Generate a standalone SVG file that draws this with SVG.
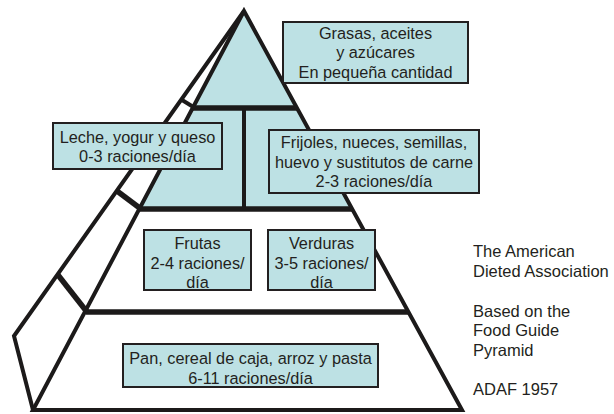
<svg xmlns="http://www.w3.org/2000/svg" width="614" height="414" viewBox="0 0 614 414">
  <style>
    .edge { fill: none; stroke: #1c1a1a; stroke-width: 4; stroke-linejoin: miter; stroke-linecap: butt; }
    .tier { fill: none; stroke: #1c1a1a; stroke-width: 5.5; stroke-linecap: butt; }
    .box { fill: #bde1e4; stroke: #231f20; stroke-width: 2; }
    .t { font-family: "Liberation Sans", Arial, Helvetica, sans-serif; font-size: 16.3px; fill: #231f20; text-anchor: middle; }
    .side { font-family: "Liberation Sans", Arial, Helvetica, sans-serif; font-size: 16.5px; fill: #231f20; }
  </style>
  <rect width="614" height="414" fill="#ffffff"/>
  <g id="pyramid">
    <polygon points="244,11 140,209 352,209" fill="#bde1e4"/>
    <polyline class="edge" points="244,11 14,336 33,410"/>
    <polygon class="edge" points="244,11 33,410 462,410"/>
    <line class="edge" x1="244" y1="108" x2="244" y2="209"/>
    <line class="tier" x1="193" y1="108" x2="297" y2="108"/>
    <line class="tier" x1="140" y1="209" x2="352" y2="209"/>
    <line class="tier" x1="86" y1="312" x2="408" y2="312"/>
    <line class="edge" x1="182" y1="100" x2="195" y2="108"/>
    <line class="tier" x1="117" y1="191" x2="141" y2="209"/>
    <line class="tier" x1="58" y1="275" x2="87" y2="312"/>
  </g>
  <g id="grasas">
    <rect class="box" x="283" y="22" width="185" height="61"/>
    <text class="t" x="375.5" y="38.5">Grasas, aceites</text>
    <text class="t" x="375.5" y="58">y azúcares</text>
    <text class="t" x="375.5" y="77.5">En pequeña cantidad</text>
  </g>
  <g id="leche">
    <rect class="box" x="53" y="123" width="169" height="46"/>
    <text class="t" x="137.5" y="142.5">Leche, yogur y queso</text>
    <text class="t" x="137.5" y="161.5">0-3 raciones/día</text>
  </g>
  <g id="frijoles">
    <rect class="box" x="269" y="130" width="210" height="63"/>
    <text class="t" x="374" y="147.5">Frijoles, nueces, semillas,</text>
    <text class="t" x="374" y="167.5">huevo y sustitutos de carne</text>
    <text class="t" x="374" y="187">2-3 raciones/día</text>
  </g>
  <g id="frutas">
    <rect class="box" x="144" y="230" width="107" height="60"/>
    <text class="t" x="197.5" y="248.5">Frutas</text>
    <text class="t" x="197.5" y="269">2-4 raciones/</text>
    <text class="t" x="197.5" y="288">día</text>
  </g>
  <g id="verduras">
    <rect class="box" x="268" y="230" width="107" height="60"/>
    <text class="t" x="321.5" y="248.5">Verduras</text>
    <text class="t" x="321.5" y="269">3-5 raciones/</text>
    <text class="t" x="321.5" y="288">día</text>
  </g>
  <g id="pan">
    <rect class="box" x="123" y="344" width="255" height="43"/>
    <text class="t" x="250.5" y="364">Pan, cereal de caja, arroz y pasta</text>
    <text class="t" x="250.5" y="384">6-11 raciones/día</text>
  </g>
  <g id="credits">
    <text class="side" x="473" y="256.5">The American</text>
    <text class="side" x="473" y="276.5">Dieted Association</text>
    <text class="side" x="473" y="316.5">Based on the</text>
    <text class="side" x="473" y="336">Food Guide</text>
    <text class="side" x="473" y="355.5">Pyramid</text>
    <text class="side" x="473" y="394.5">ADAF 1957</text>
  </g>
</svg>
